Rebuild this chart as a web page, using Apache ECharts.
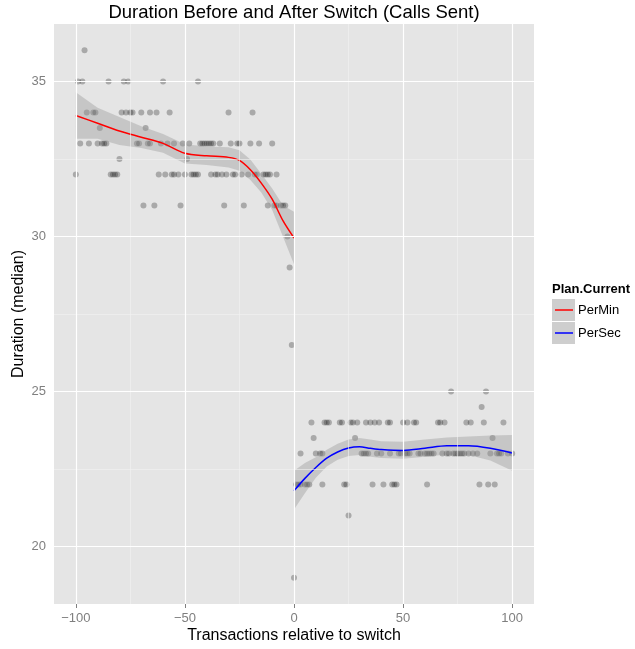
<!DOCTYPE html>
<html>
<head>
<meta charset="utf-8">
<script src="https://cdn.jsdelivr.net/npm/echarts@6/dist/echarts.min.js"></script>
<style>
  html, body { margin: 0; padding: 0; background: #fff; }
  #chart { width: 635px; height: 649px; }
</style>
</head>
<body>
<div id="chart"></div>
<script>
// scatter points, grouped by duration value
const ptsBefore = {
  36: [-96],
  35: [-99, -97, -85, -78, -76, -60, -44],
  34: [-95, -92, -91, -79, -77, -75, -74, -70, -66, -63, -57, -30, -19],
  33.5: [-89, -68],
  33: [-98, -94, -90, -88, -87, -86, -72, -71, -67, -66, -61, -58, -55, -51, -48, -43, -42, -41, -40, -39, -38, -37, -34,
       -29, -26, -25, -20, -16, -10],
  32.5: [-80, -49],
  32: [-100, -84, -83, -82, -81, -62, -59, -56, -55, -53, -50, -47, -46, -45, -44, -38, -36, -35, -33, -31, -28, -27,
       -24, -21, -18, -17, -14, -13, -12, -11, -8],
  31: [-69, -64, -52, -32, -23, -12, -9, -8, -6, -5, -4],
  30: [-3],
  29: [-2],
  26.5: [-1],
  19: [0]
}
const ptsAfter = {
  25: [72, 88],
  24.5: [86],
  24: [8, 14, 15, 16, 21, 22, 26, 27, 29, 33, 35, 37, 39, 43, 44, 50, 52, 55, 56, 66, 67, 69, 79, 81, 87, 96],
  23.5: [9, 28, 91],
  23: [3, 10, 12, 13, 31, 32, 33, 34, 38, 40, 44, 48, 49, 51, 52, 53, 57, 58, 60, 61, 62, 63, 64, 68, 70, 71, 73, 74,
       75, 76, 77, 78, 80, 82, 84, 90, 93, 94, 95, 98, 100],
  22: [1, 2, 3, 5, 6, 7, 13, 23, 24, 36, 41, 45, 46, 47, 61, 85, 89, 92],
  21: [25]
}

// loess fits + confidence band
const minX = [-100, -90, -80, -70, -60, -50, -40, -30, -25, -20, -15, -10, -5, 0]
const minFit = [33.9, 33.65, 33.4, 33.2, 33.0, 32.68, 32.6, 32.55, 32.45, 32.15, 31.72, 31.2, 30.5, 29.95]
const minHi = [34.65, 34.15, 33.85, 33.55, 33.3, 32.97, 32.9, 32.88, 32.78, 32.48, 32.02, 31.55, 31.0, 30.8]
const minLo = [33.15, 33.15, 32.95, 32.85, 32.7, 32.35, 32.3, 32.22, 32.12, 31.82, 31.42, 30.85, 29.98, 29.1]

const secX = [0, 5, 10, 15, 20, 25, 30, 35, 40, 50, 60, 70, 80, 90, 100]
const secFit = [21.8, 22.2, 22.55, 22.85, 23.05, 23.18, 23.22, 23.17, 23.13, 23.1, 23.17, 23.25, 23.25, 23.17, 23.02]
const secHi = [22.45, 22.7, 22.88, 23.12, 23.32, 23.45, 23.5, 23.45, 23.4, 23.38, 23.45, 23.52, 23.55, 23.58, 23.6]
const secLo = [21.2, 21.72, 22.22, 22.58, 22.8, 22.92, 22.95, 22.9, 22.86, 22.83, 22.9, 22.97, 22.95, 22.78, 22.45]

const xMajor = [-100, -50, 0, 50, 100]
const xMinor = [-75, -25, 25, 75]
const yMajor = [20, 25, 30, 35]
const yMinor = [22.5, 27.5, 32.5]

const FONT = 'Liberation Sans, Arial, Helvetica, sans-serif'

function toPoints(groups) {
  const out = []
  Object.keys(groups).forEach(y => {
    groups[y].forEach(x => out.push([x, Number(y)]))
  })
  return out
}

function bandSeries(xs, lo, hi) {
  return {
    type: 'custom',
    z: 3,
    silent: true,
    data: xs.map((x, i) => [x, lo[i], hi[i]]),
    renderItem(params, api) {
      if (params.dataIndex !== 0) return null
      const pts = []
      for (let i = 0; i < xs.length; i++) pts.push(api.coord([xs[i], hi[i]]))
      for (let i = xs.length - 1; i >= 0; i--) pts.push(api.coord([xs[i], lo[i]]))
      return {
        type: 'polygon',
        shape: { points: pts },
        style: { fill: 'rgba(153,153,153,0.4)' }
      }
    }
  }
}

function gridLines(vals, key, color, width) {
  return vals.map(v => ({ [key]: v, lineStyle: { color: color, width: width, type: 'solid' } }))
}

const chart = echarts.init(document.getElementById('chart'), null, { renderer: 'canvas' })

chart.setOption({
  animation: false,
  backgroundColor: '#fff',
  title: [{
    text: 'Duration Before and After Switch (Calls Sent)',
    left: 294,
    top: 3,
    padding: 0,
    textAlign: 'center',
    textStyle: { fontFamily: FONT, fontSize: 18.5, fontWeight: 'normal', color: '#000' }
  }, {
    text: 'Plan.Current',
    left: 552,
    top: 283,
    padding: 0,
    textStyle: { fontFamily: FONT, fontSize: 13, fontWeight: 'bold', color: '#000' }
  }],
  legend: {
    data: ['PerMin', 'PerSec'],
    orient: 'vertical',
    left: 555,
    top: 299,
    padding: 0,
    icon: 'rect',
    itemWidth: 18,
    itemHeight: 1.5,
    itemGap: 1,
    textStyle: { fontFamily: FONT, fontSize: 13, color: '#000', lineHeight: 22 }
  },
  graphic: [
    { type: 'rect', left: 552, top: 299, shape: { width: 23, height: 22 }, style: { fill: '#CECECE' }, z: 0 },
    { type: 'rect', left: 552, top: 322, shape: { width: 23, height: 22 }, style: { fill: '#CECECE' }, z: 0 }
  ],
  grid: {
    left: 54,
    top: 24,
    width: 480,
    height: 580,
    show: true,
    backgroundColor: '#E5E5E5',
    borderWidth: 0,
    outerBoundsMode: 'none'
  },
  xAxis: {
    type: 'value',
    min: -110,
    max: 110,
    name: 'Transactions relative to switch',
    nameLocation: 'middle',
    nameGap: 24,
    nameMoveOverlap: false,
    nameTextStyle: { fontFamily: FONT, fontSize: 16, color: '#000' },
    axisLine: { show: false },
    splitLine: { show: false },
    axisTick: { show: true, length: 4, customValues: xMajor, lineStyle: { color: '#7F7F7F' } },
    axisLabel: {
      customValues: xMajor,
      margin: 8,
      fontFamily: FONT,
      fontSize: 13,
      color: '#7F7F7F',
      formatter: v => (v < 0 ? '\u2212' + Math.abs(v) : String(v))
    }
  },
  yAxis: {
    type: 'value',
    min: 18.15,
    max: 36.85,
    name: 'Duration (median)',
    nameLocation: 'middle',
    nameGap: 27,
    nameMoveOverlap: false,
    nameRotate: 90,
    nameTextStyle: { fontFamily: FONT, fontSize: 16, color: '#000' },
    axisLine: { show: false },
    splitLine: { show: false },
    axisTick: { show: true, length: 4, customValues: yMajor, lineStyle: { color: '#7F7F7F' } },
    axisLabel: { customValues: yMajor, margin: 8, fontFamily: FONT, fontSize: 13, color: '#7F7F7F' }
  },
  series: [
    {
      // panel grid lines
      type: 'line',
      data: [],
      z: 1,
      silent: true,
      markLine: {
        silent: true,
        symbol: 'none',
        label: { show: false },
        animation: false,
        data: [].concat(
          gridLines(xMinor, 'xAxis', '#F2F2F2', 0.6),
          gridLines(yMinor, 'yAxis', '#F2F2F2', 0.6),
          gridLines(xMajor, 'xAxis', '#FFFFFF', 1.2),
          gridLines(yMajor, 'yAxis', '#FFFFFF', 1.2)
        )
      }
    },
    {
      type: 'scatter',
      z: 2,
      symbolSize: 6,
      silent: true,
      itemStyle: { color: 'rgba(0,0,0,0.33)' },
      data: toPoints(ptsBefore).concat(toPoints(ptsAfter))
    },
    bandSeries(minX, minLo, minHi),
    bandSeries(secX, secLo, secHi),
    {
      name: 'PerMin',
      type: 'line',
      z: 4,
      smooth: 0.3,
      symbol: 'none',
      color: '#FF0000',
      lineStyle: { color: '#FF0000', width: 1.5 },
      data: minX.map((x, i) => [x, minFit[i]])
    },
    {
      name: 'PerSec',
      type: 'line',
      z: 4,
      smooth: 0.3,
      symbol: 'none',
      color: '#0000FF',
      lineStyle: { color: '#0000FF', width: 1.5 },
      data: secX.map((x, i) => [x, secFit[i]])
    }
  ]
})
</script>
</body>
</html>
